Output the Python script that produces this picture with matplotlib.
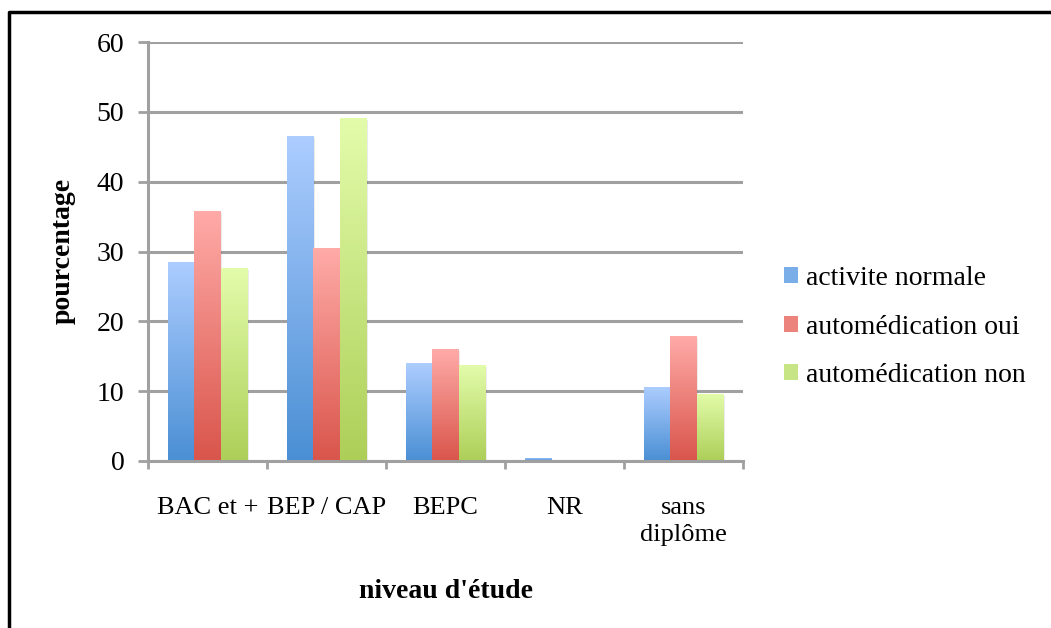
import matplotlib
matplotlib.use("Agg")
import matplotlib.pyplot as plt
import numpy as np
from matplotlib.colors import LinearSegmentedColormap
from matplotlib.patches import Rectangle, Patch
from matplotlib.lines import Line2D

categories = ["BAC et +", "BEP / CAP", "BEPC", "NR", "sans\ndiplôme"]
series_names = ["activite normale", "automédication oui", "automédication non"]
activite_normale = [28.5, 46.6, 14.0, 0.45, 10.6]
automedication_oui = [35.8, 30.5, 16.0, 0.0, 17.9]
automedication_non = [27.6, 49.1, 13.75, 0.0, 9.6]
yticks = [0, 10, 20, 30, 40, 50, 60]

series = [activite_normale, automedication_oui, automedication_non]
grads = [("#4A8FD4", "#ADCDFF"), ("#D9554B", "#FFABA8"), ("#ADCF58", "#E3FCAB")]
mids = ["#7AAEE8", "#EC837C", "#C8E585"]

FS = 20
plt.rcParams['font.family'] = ['Liberation Serif', 'DejaVu Serif']
fig = plt.figure(figsize=(10.51, 6.28), dpi=100)
ax = fig.add_axes([148/1051, 1-461/628, (743-148)/1051, (461-42)/628])

x = np.arange(len(categories))
bw = 1/4.5
for i, vals in enumerate(series):
    cmap = LinearSegmentedColormap.from_list("g%d" % i, grads[i])
    bars = ax.bar(x + (i-1)*bw, vals, width=bw, color="none", edgecolor="none", zorder=3)
    for b, v in zip(bars, vals):
        if v <= 0:
            continue
        x0 = b.get_x()
        ax.add_patch(Rectangle((x0+0.012, 0), bw, v-0.3, facecolor="#000000", alpha=0.08,
                               edgecolor="none", zorder=2.5))
        grad = np.linspace(0, 1, 256).reshape(-1, 1)
        im = ax.imshow(grad, cmap=cmap, aspect="auto", origin="lower",
                       extent=[x0, x0+bw, 0, v], zorder=3)
        im.set_clip_path(b)

ax.set_xlim(-0.5, len(categories)-0.5)
ax.set_ylim(0, 60)
ax.set_yticks(yticks)
ax.set_yticklabels([str(t) for t in yticks], fontsize=FS)
ax.set_xticks(np.arange(len(categories)+1)-0.5, minor=False)
ax.set_xticklabels([])
ax.set_xticks(x, minor=True)
ax.set_xticklabels(categories, minor=True, fontsize=19, linespacing=1.3)
ax.tick_params(axis='x', which='minor', length=0, pad=26)
ax.tick_params(axis='x', which='major', length=6, width=2, color="#A0A0A0", direction='out')
ax.tick_params(axis='y', length=7, width=2, color="#A0A0A0", direction='out', pad=10)
ax.yaxis.grid(True, color="#A0A0A0", linewidth=2.2, zorder=1)
ax.set_axisbelow(True)
for s in ["top", "right"]:
    ax.spines[s].set_visible(False)
for s in ["left", "bottom"]:
    ax.spines[s].set_color("#A0A0A0")
    ax.spines[s].set_linewidth(2.2)
ax.spines["bottom"].set_zorder(4)

fig.text(446/1051, 1-592/628, "niveau d'étude", fontsize=FS, fontweight="bold", ha="center", va="center")
fig.text(63/1051, 1-251/628, "pourcentage", fontsize=FS, fontweight="bold", ha="center", va="center", rotation=90)

handles = [Patch(facecolor=c, edgecolor="none") for c in mids]
leg = fig.legend(handles, series_names, loc="center left", bbox_to_anchor=(784/1051, 1-327/628),
                 frameon=False, fontsize=FS, handlelength=0.5, handleheight=0.5,
                 handletextpad=0.3, labelspacing=0.85, borderaxespad=0, borderpad=0)

fig.add_artist(Line2D([9/1051, 9/1051, 1.0], [0, 1-12/628, 1-12/628], transform=fig.transFigure,
                      color="black", linewidth=2.5))

fig.savefig("out.png", dpi=100)
